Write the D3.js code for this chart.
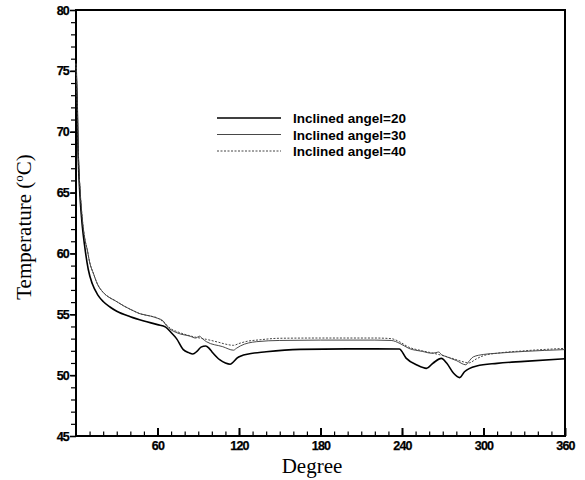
<!DOCTYPE html>
<html>
<head>
<meta charset="utf-8">
<script src="https://cdn.jsdelivr.net/npm/d3@7"></script>
<style>
  body { margin: 0; background: #fff; }
</style>
</head>
<body>
<div id="container"></div>
<script>
const width = 585;
const height = 480;
const margin = {top: 10, right: 20, bottom: 44, left: 76};

// degree / temperature pairs
const angle20 = [[0,75.6],[1,71.5],[1.5,68.5],[2,66.8],[3,64.6],[4.5,62.4],[6.5,60.5],[9,58.7],[12,57.5],[16,56.6],
  [20,56.05],[25,55.6],[30,55.25],[40,54.8],[50,54.45],[60,54.15],[66,53.95],[70,53.5],[74,53.0],[79,52.1],
  [83,51.85],[86,51.74],[89,51.95],[92,52.3],[95.5,52.4],[98,52.2],[100,51.93],[106,51.25],[110,51.0],[113.5,50.9],
  [116,51.1],[118.5,51.4],[122,51.6],[126,51.72],[140,51.92],[165,52.12],[200,52.16],[238,52.15],[243,51.4],[251,50.83],
  [258,50.56],[263,51.0],[269,51.38],[273,50.97],[278,50.15],[282.5,49.8],[286,50.28],[295,50.75],[310,50.97],[330,51.13],[360,51.35]];

const angle30 = [[0,75.6],[1,72],[1.5,69],[2,67.3],[3,65.2],[4.5,63],[6.5,61.2],[8.3,60.3],[10,59.3],[13,58.3],
  [15.7,57.5],[20,56.8],[25,56.35],[28,56.17],[35,55.7],[42,55.3],[47,55.05],[55,54.85],[60,54.67],[64,54.47],
  [67,54.0],[69,53.8],[75,53.45],[84,53.2],[88,53.05],[91,53.2],[93,53.0],[96,52.75],[108,52.34],[116,52.05],
  [118,52.2],[121,52.4],[133,52.75],[150,52.85],[180,52.88],[220,52.88],[232,52.85],[238.5,52.6],[245,52.2],[255,51.95],
  [262,51.8],[265,51.85],[267,51.9],[269,51.7],[273,51.5],[280,51.2],[287,50.85],[289,51.1],[292.5,51.5],[300,51.7],
  [310,51.8],[330,51.95],[360,52.1]];

const angle40 = [[0,75.6],[1,72],[1.5,69],[2,67.3],[3,65.2],[4.5,63],[6.5,61.2],[8.3,60.3],[10,59.3],[13,58.3],
  [15.7,57.5],[20,56.8],[25,56.35],[28,56.17],[35,55.7],[42,55.3],[47,55.05],[55,54.85],[60,54.7],[65,54.3],
  [70,53.8],[75,53.55],[85,53.2],[96,52.94],[105,52.7],[110,52.55],[116,52.45],[120,52.6],[126,52.78],[135,52.9],
  [150,53.03],[180,53.05],[220,53.05],[232,53.0],[238,52.75],[245,52.3],[255,52.0],[265,51.75],[275,51.45],[285,51.1],
  [289,51.0],[295,51.35],[300,51.6],[310,51.8],[330,52.0],[360,52.2]];

const xMajor = [60, 120, 180, 240, 300, 360];
const xMinor = d3.range(10, 360, 10);
const yMajor = [45, 50, 55, 60, 65, 70, 75, 80];
const yMinor = d3.range(46, 80, 1);

const legendNames = ["Inclined angel=20", "Inclined angel=30", "Inclined angel=40"];

const sansBold = "'Liberation Sans', Arial, sans-serif";

const svg = d3.select("#container").append("svg")
  .attr("width", width)
  .attr("height", height);

svg.append("rect").attr("width", width).attr("height", height).attr("fill", "#fff");

const x = d3.scaleLinear().domain([0, 360]).range([margin.left, width - margin.right]);
const y = d3.scaleLinear().domain([45, 80]).range([height - margin.bottom, margin.top]);

function styleAxis(g, w) {
  g.select(".domain").remove();
  g.selectAll("line").attr("stroke", "#000").attr("stroke-width", w);
  g.selectAll("text")
    .attr("fill", "#000")
    .attr("stroke", "#000")
    .attr("stroke-width", 0.25)
    .style("font-family", sansBold)
    .style("font-weight", "bold")
    .style("font-size", "12.5px")
    .style("letter-spacing", "-0.8px");
}

// minor ticks
svg.append("g")
  .attr("transform", "translate(0," + y(45) + ")")
  .call(d3.axisBottom(x).tickValues(xMinor).tickSizeInner(-4.5).tickSizeOuter(0).tickFormat(""))
  .call(g => styleAxis(g, 1.2));
svg.append("g")
  .attr("transform", "translate(" + x(0) + ",0)")
  .call(d3.axisLeft(y).tickValues(yMinor).tickSizeInner(5).tickSizeOuter(0).tickFormat(""))
  .call(g => styleAxis(g, 1.2));

// major ticks
const xAxis = svg.append("g")
  .attr("transform", "translate(0," + y(45) + ")")
  .call(d3.axisBottom(x).tickValues(xMajor).tickSizeInner(-8).tickSizeOuter(0))
  .call(g => styleAxis(g, 2));
xAxis.selectAll("text").attr("y", 5);

svg.append("g")
  .attr("transform", "translate(" + x(0) + ",0)")
  .call(d3.axisLeft(y).tickValues(yMajor).tickSizeInner(6).tickSizeOuter(0).tickPadding(1))
  .call(g => styleAxis(g, 1.6));

// frame
svg.append("rect")
  .attr("x", x(0)).attr("y", y(80))
  .attr("width", x(360) - x(0)).attr("height", y(45) - y(80))
  .attr("fill", "none").attr("stroke", "#000").attr("stroke-width", 2);

const line = d3.line()
  .x(d => x(d[0]))
  .y(d => y(d[1]))
  .curve(d3.curveMonotoneX);

const styles = [
  {data: angle20, color: "#000", w: 1.6, dash: null},
  {data: angle30, color: "#333", w: 0.9, dash: null},
  {data: angle40, color: "#444", w: 1.0, dash: "2,1.5"}
];

styles.forEach(s => {
  svg.append("path")
    .attr("d", line(s.data))
    .attr("fill", "none")
    .attr("stroke", s.color)
    .attr("stroke-width", s.w)
    .attr("stroke-dasharray", s.dash);
});

// legend
const legend = svg.append("g");
legendNames.forEach((name, i) => {
  const ly = 118 + i * 16.5;
  legend.append("line")
    .attr("x1", 217).attr("x2", 281).attr("y1", ly).attr("y2", ly)
    .attr("stroke", styles[i].color)
    .attr("stroke-width", styles[i].w)
    .attr("stroke-dasharray", styles[i].dash);
  legend.append("text")
    .attr("x", 293).attr("y", ly + 5)
    .style("font-family", sansBold)
    .style("font-weight", "bold")
    .style("font-size", "13.5px")
    .style("letter-spacing", "0px")
    .text(name);
});

// axis titles
svg.append("text")
  .attr("x", 312).attr("y", 473)
  .attr("text-anchor", "middle")
  .style("font-family", "'Liberation Serif', 'Times New Roman', serif")
  .style("font-size", "21px")
  .text("Degree");

const yTitle = svg.append("text")
  .attr("transform", "translate(31,227) rotate(-90)")
  .attr("text-anchor", "middle")
  .style("font-family", "'Liberation Serif', 'Times New Roman', serif")
  .style("font-size", "21px");
yTitle.append("tspan").text("Temperature (");
yTitle.append("tspan").attr("dy", -8).style("font-size", "13px").text("o");
yTitle.append("tspan").attr("dy", 8).text("C)");
</script>
</body>
</html>
